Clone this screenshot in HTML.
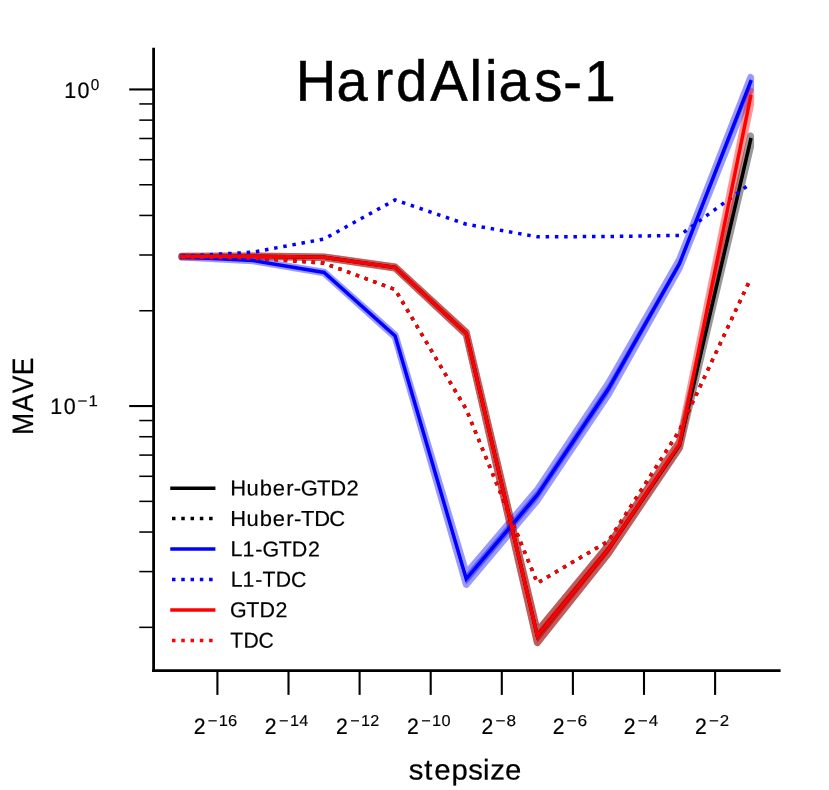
<!DOCTYPE html>
<html lang="en">
<head>
<meta charset="utf-8">
<title>HardAlias-1</title>
<style>
html,body{margin:0;padding:0;background:#fff;}
body{width:829px;height:790px;overflow:hidden;font-family:"Liberation Sans",sans-serif;}
svg{display:block;will-change:transform;}
text{font-family:"Liberation Sans",sans-serif;fill:#000;text-rendering:geometricPrecision;}
</style>
</head>
<body>
<svg width="829" height="790" viewBox="0 0 829 790">
<rect x="0" y="0" width="829" height="790" fill="#ffffff"/>

<g id="bands">
<polygon points="181.85,256.30 252.95,255.90 324.05,256.90 395.15,267.00 466.25,332.40 537.35,631.50 608.45,545.30 679.55,442.20 750.65,135.80 750.65,146.40 679.55,448.00 608.45,553.30 537.35,642.60 466.25,334.40 395.15,268.00 324.05,257.50 252.95,256.50 181.85,256.90" fill="#000000" fill-opacity="0.4" stroke="#000000" stroke-opacity="0.4" stroke-width="6.9" stroke-linejoin="round"/>
<polygon points="181.85,256.50 252.95,260.20 324.05,272.10 395.15,335.00 466.25,573.60 537.35,489.80 608.45,383.20 679.55,259.50 750.65,77.40 750.65,88.80 679.55,267.50 608.45,394.40 537.35,500.20 466.25,584.40 395.15,337.00 324.05,272.90 252.95,260.80 181.85,257.10" fill="#0000ff" fill-opacity="0.4" stroke="#0000ff" stroke-opacity="0.4" stroke-width="6.9" stroke-linejoin="round"/>
<polygon points="181.85,256.30 252.95,255.90 324.05,256.90 395.15,267.00 466.25,332.40 537.35,631.50 608.45,545.30 679.55,441.20 750.65,91.10 750.65,104.50 679.55,447.00 608.45,553.30 537.35,642.60 466.25,334.40 395.15,268.00 324.05,257.50 252.95,256.50 181.85,256.90" fill="#ff0000" fill-opacity="0.4" stroke="#ff0000" stroke-opacity="0.4" stroke-width="6.9" stroke-linejoin="round"/>
</g>
<g id="curves">
<polyline points="181.85,256.60 252.95,256.20 324.05,257.20 395.15,267.50 466.25,333.40 537.35,635.90 608.45,549.30 679.55,445.00 750.65,139.70" fill="none" stroke="#000000" stroke-width="3.5" stroke-linejoin="miter" stroke-linecap="square"/>
<polyline points="181.85,257.00 252.95,258.00 324.05,263.20 395.15,289.50 466.25,409.40 537.35,583.00 608.45,541.00 679.55,430.40 750.65,278.50" fill="none" stroke="#000000" stroke-width="3.5" stroke-linejoin="miter" stroke-dasharray="3.50 5.775" stroke-linecap="butt"/>
<polyline points="181.85,256.80 252.95,260.50 324.05,272.50 395.15,336.00 466.25,579.00 537.35,495.00 608.45,388.80 679.55,263.50 750.65,81.80" fill="none" stroke="#0000ff" stroke-width="3.5" stroke-linejoin="miter" stroke-linecap="square"/>
<polyline points="181.85,256.20 252.95,252.20 324.05,239.00 395.15,199.90 466.25,224.20 537.35,236.80 608.45,236.50 679.55,235.40 750.65,183.50" fill="none" stroke="#0000ff" stroke-width="3.5" stroke-linejoin="miter" stroke-dasharray="3.50 5.775" stroke-linecap="butt"/>
<polyline points="181.85,256.60 252.95,256.20 324.05,257.20 395.15,267.50 466.25,333.40 537.35,635.90 608.45,549.30 679.55,444.00 750.65,96.60" fill="none" stroke="#ff0000" stroke-width="3.5" stroke-linejoin="miter" stroke-linecap="square"/>
<polyline points="181.85,257.00 252.95,258.00 324.05,263.20 395.15,289.50 466.25,409.40 537.35,583.00 608.45,541.00 679.55,430.40 750.65,278.50" fill="none" stroke="#ff0000" stroke-width="3.5" stroke-linejoin="miter" stroke-dasharray="3.50 5.775" stroke-linecap="butt"/>
</g>
<g id="axes" stroke="#000" fill="none">
<line x1="153.6" y1="47.800000000000004" x2="153.6" y2="672.0" stroke-width="2.8"/>
<line x1="152.2" y1="670.6" x2="780.6" y2="670.6" stroke-width="2.8"/>
<line x1="217.40" y1="670.6" x2="217.40" y2="694.90" stroke-width="2.1"/>
<line x1="288.50" y1="670.6" x2="288.50" y2="694.90" stroke-width="2.1"/>
<line x1="359.60" y1="670.6" x2="359.60" y2="694.90" stroke-width="2.1"/>
<line x1="430.70" y1="670.6" x2="430.70" y2="694.90" stroke-width="2.1"/>
<line x1="501.80" y1="670.6" x2="501.80" y2="694.90" stroke-width="2.1"/>
<line x1="572.90" y1="670.6" x2="572.90" y2="694.90" stroke-width="2.1"/>
<line x1="644.00" y1="670.6" x2="644.00" y2="694.90" stroke-width="2.1"/>
<line x1="715.10" y1="670.6" x2="715.10" y2="694.90" stroke-width="2.1"/>
<line x1="153.6" y1="89.45" x2="129.20" y2="89.45" stroke-width="2.1"/>
<line x1="153.6" y1="406.05" x2="129.20" y2="406.05" stroke-width="2.1"/>
<line x1="153.6" y1="310.74" x2="139.30" y2="310.74" stroke-width="1.55"/>
<line x1="153.6" y1="254.99" x2="139.30" y2="254.99" stroke-width="1.55"/>
<line x1="153.6" y1="215.44" x2="139.30" y2="215.44" stroke-width="1.55"/>
<line x1="153.6" y1="184.76" x2="139.30" y2="184.76" stroke-width="1.55"/>
<line x1="153.6" y1="159.69" x2="139.30" y2="159.69" stroke-width="1.55"/>
<line x1="153.6" y1="138.49" x2="139.30" y2="138.49" stroke-width="1.55"/>
<line x1="153.6" y1="120.13" x2="139.30" y2="120.13" stroke-width="1.55"/>
<line x1="153.6" y1="103.94" x2="139.30" y2="103.94" stroke-width="1.55"/>
<line x1="153.6" y1="627.34" x2="139.30" y2="627.34" stroke-width="1.55"/>
<line x1="153.6" y1="571.59" x2="139.30" y2="571.59" stroke-width="1.55"/>
<line x1="153.6" y1="532.04" x2="139.30" y2="532.04" stroke-width="1.55"/>
<line x1="153.6" y1="501.36" x2="139.30" y2="501.36" stroke-width="1.55"/>
<line x1="153.6" y1="476.29" x2="139.30" y2="476.29" stroke-width="1.55"/>
<line x1="153.6" y1="455.09" x2="139.30" y2="455.09" stroke-width="1.55"/>
<line x1="153.6" y1="436.73" x2="139.30" y2="436.73" stroke-width="1.55"/>
<line x1="153.6" y1="420.54" x2="139.30" y2="420.54" stroke-width="1.55"/>
</g>
<g id="ticklabels">
<text transform="translate(66.00 97.90) rotate(0.05) scale(0.9597 1)" x="-1.82 12.10" y="0" font-size="22.39" stroke="#000" stroke-width="0.20">10</text>
<text transform="translate(91.23 90.00) rotate(0.05) scale(0.9716 1)" x="-0.62" y="0" font-size="15.82" stroke="#000" stroke-width="0.14">0</text>
<text transform="translate(52.10 414.10) rotate(0.05) scale(0.9597 1)" x="-1.82 12.10" y="0" font-size="22.39" stroke="#000" stroke-width="0.20">10</text>
<text transform="translate(77.91 406.20) rotate(0.05) scale(1.0655 1)" x="-0.34 9.87" y="0" font-size="15.82" stroke="#000" stroke-width="0.14">−1</text>
<text transform="translate(194.80 733.90) rotate(0.05) scale(0.9452 1)" x="-1.13" y="0" font-size="22.39" stroke="#000" stroke-width="0.20">2</text>
<text transform="translate(208.12 726.00) rotate(0.05) scale(1.0454 1)" x="-0.26 10.15 19.11" y="0" font-size="15.82" stroke="#000" stroke-width="0.14">−16</text>
<text transform="translate(265.90 733.90) rotate(0.05) scale(0.9452 1)" x="-1.13" y="0" font-size="22.39" stroke="#000" stroke-width="0.20">2</text>
<text transform="translate(279.22 726.00) rotate(0.05) scale(1.0322 1)" x="-0.20 10.34 19.42" y="0" font-size="15.82" stroke="#000" stroke-width="0.14">−14</text>
<text transform="translate(337.00 733.90) rotate(0.05) scale(0.9452 1)" x="-1.13" y="0" font-size="22.39" stroke="#000" stroke-width="0.20">2</text>
<text transform="translate(350.32 726.00) rotate(0.05) scale(1.0226 1)" x="-0.16 10.48 19.45" y="0" font-size="15.82" stroke="#000" stroke-width="0.14">−12</text>
<text transform="translate(408.10 733.90) rotate(0.05) scale(0.9452 1)" x="-1.13" y="0" font-size="22.39" stroke="#000" stroke-width="0.20">2</text>
<text transform="translate(421.42 726.00) rotate(0.05) scale(1.0333 1)" x="-0.21 10.33 19.39" y="0" font-size="15.82" stroke="#000" stroke-width="0.14">−10</text>
<text transform="translate(482.65 733.90) rotate(0.05) scale(0.9452 1)" x="-1.13" y="0" font-size="22.39" stroke="#000" stroke-width="0.20">2</text>
<text transform="translate(495.97 726.00) rotate(0.05) scale(1.0866 1)" x="-0.42 9.69" y="0" font-size="15.82" stroke="#000" stroke-width="0.14">−8</text>
<text transform="translate(553.75 733.90) rotate(0.05) scale(0.9452 1)" x="-1.13" y="0" font-size="22.39" stroke="#000" stroke-width="0.20">2</text>
<text transform="translate(567.07 726.00) rotate(0.05) scale(1.0989 1)" x="-0.47 9.52" y="0" font-size="15.82" stroke="#000" stroke-width="0.14">−6</text>
<text transform="translate(624.85 733.90) rotate(0.05) scale(0.9452 1)" x="-1.13" y="0" font-size="22.39" stroke="#000" stroke-width="0.20">2</text>
<text transform="translate(638.17 726.00) rotate(0.05) scale(1.0776 1)" x="-0.39 9.81" y="0" font-size="15.82" stroke="#000" stroke-width="0.14">−4</text>
<text transform="translate(695.95 733.90) rotate(0.05) scale(0.9452 1)" x="-1.13" y="0" font-size="22.39" stroke="#000" stroke-width="0.20">2</text>
<text transform="translate(709.27 726.00) rotate(0.05) scale(1.0660 1)" x="-0.34 9.78" y="0" font-size="15.82" stroke="#000" stroke-width="0.14">−2</text>
</g>
<g id="legend">
<line x1="172.0" y1="488.16" x2="213.67" y2="488.16" stroke="#000000" stroke-width="3.5" stroke-linecap="square"/>
<text transform="translate(232.35 495.45) rotate(0.05) scale(1.0151 1)" x="-2.13 13.85 27.04 39.78 53.08 60.60 67.44 83.47 96.46 112.38" y="0" font-size="21.66" stroke="#000" stroke-width="0.19">Huber-GTD2</text>
<line x1="172.0" y1="518.62" x2="213.67" y2="518.62" stroke="#000000" stroke-width="3.5" stroke-dasharray="3.50 5.775"/>
<text transform="translate(232.35 525.91) rotate(0.05) scale(1.0128 1)" x="-2.11 13.90 27.11 39.88 53.21 60.75 67.74 80.76 95.71" y="0" font-size="21.66" stroke="#000" stroke-width="0.19">Huber-TDC</text>
<line x1="172.0" y1="549.08" x2="213.67" y2="549.08" stroke="#0000ff" stroke-width="3.5" stroke-linecap="square"/>
<text transform="translate(232.35 556.37) rotate(0.05) scale(0.9893 1)" x="-1.78 10.23 23.25 30.38 46.79 60.16 76.44" y="0" font-size="21.66" stroke="#000" stroke-width="0.19">L1-GTD2</text>
<line x1="172.0" y1="579.54" x2="213.67" y2="579.54" stroke="#0000ff" stroke-width="3.5" stroke-dasharray="3.50 5.775"/>
<text transform="translate(232.35 586.83) rotate(0.05) scale(0.9817 1)" x="-1.74 10.35 23.46 30.76 44.25 59.66" y="0" font-size="21.66" stroke="#000" stroke-width="0.19">L1-TDC</text>
<line x1="172.0" y1="610.00" x2="213.67" y2="610.00" stroke="#ff0000" stroke-width="3.5" stroke-linecap="square"/>
<text transform="translate(231.48 617.29) rotate(0.05) scale(0.9883 1)" x="-1.45 14.98 28.36 44.65" y="0" font-size="21.66" stroke="#000" stroke-width="0.19">GTD2</text>
<line x1="172.0" y1="640.46" x2="213.67" y2="640.46" stroke="#ff0000" stroke-width="3.5" stroke-dasharray="3.50 5.775"/>
<text transform="translate(230.25 647.75) rotate(0.05) scale(0.9757 1)" x="-0.03 13.55 29.06" y="0" font-size="21.66" stroke="#000" stroke-width="0.19">TDC</text>
</g>
<g id="labels">
<text transform="translate(300.40 100.70) rotate(0.05) scale(0.9715 1)" x="-4.88 37.10 76.31 98.41 133.54 174.09 190.12 203.96 240.73 270.54 292.51" y="0" font-size="57.78" stroke="#000" stroke-width="0.52">HardAlias-1</text>
<text transform="translate(410.20 779.50) rotate(0.05) scale(1.0231 1)" x="-1.42 13.76 23.44 40.34 56.70 71.23 78.15 92.59" y="0" font-size="28.61" stroke="#000" stroke-width="0.26">stepsize</text>
<text transform="translate(32.90 432.90) rotate(-89.95) scale(0.9000 1)" x="-2.21 23.55 44.18 63.96" y="0" font-size="29.45" stroke="#000" stroke-width="0.27">MAVE</text>
</g>
</svg>
</body>
</html>
